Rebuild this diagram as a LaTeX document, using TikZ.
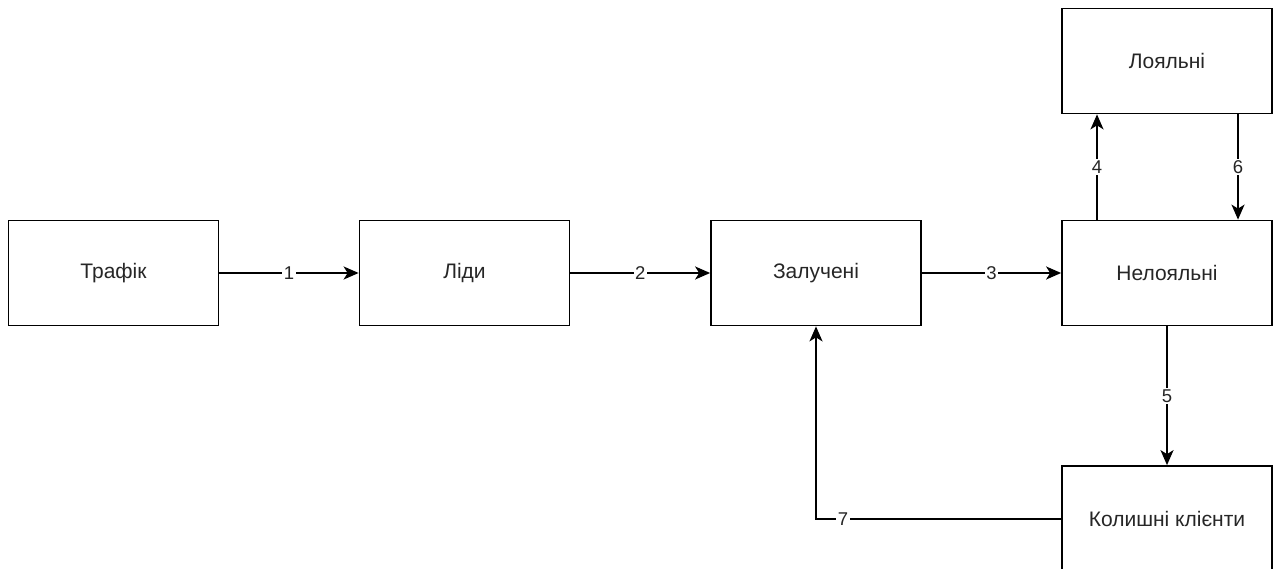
\documentclass[tikz,border=0pt]{standalone}
\usepackage{fontspec}
\setmainfont{Liberation Sans}
\usetikzlibrary{arrows.meta}
\begin{document}
\begin{tikzpicture}[x=1pt,y=-1pt,
  box/.style={draw=black,line width=1.75pt,minimum width=210pt,minimum height=105pt,inner sep=0pt,font=\fontsize{21}{25}\selectfont,text=black!85},
  conn/.style={draw=black,line width=1.75pt,-{Stealth[length=15pt,width=13pt,inset=4pt]}},
  lab/.style={fill=white,inner sep=1.5pt,font=\fontsize{18.5}{21}\selectfont,text=black!85}]
\useasboundingbox (0,0) rectangle (1274,569);
\node[box] (traffic) at (113.5,273) {Трафік};
\node[box] (leads) at (464.5,273) {Ліди};
\node[box] (engaged) at (816,273) {Залучені};
\node[box] (disloyal) at (1167,273) {Нелояльні};
\node[box] (loyal) at (1167,61) {Лояльні};
\node[box] (former) at (1167,518.5) {Колишні клієнти};
\draw[conn] (traffic.east) -- node[lab]{1} (leads.west);
\draw[conn] (leads.east) -- node[lab]{2} (engaged.west);
\draw[conn] (engaged.east) -- node[lab]{3} (disloyal.west);
\draw[conn] ([xshift=-70pt]disloyal.north) -- node[lab]{4} ([xshift=-70pt]loyal.south);
\draw[conn] ([xshift=71pt]loyal.south) -- node[lab]{6} ([xshift=71pt]disloyal.north);
\draw[conn] (disloyal.south) -- node[lab]{5} (former.north);
\coordinate (corner) at (816,519);
\draw[conn] (former.west |- corner) -- node[lab,pos=0.89]{7} (corner) -- (engaged.south);
\end{tikzpicture}
\end{document}
